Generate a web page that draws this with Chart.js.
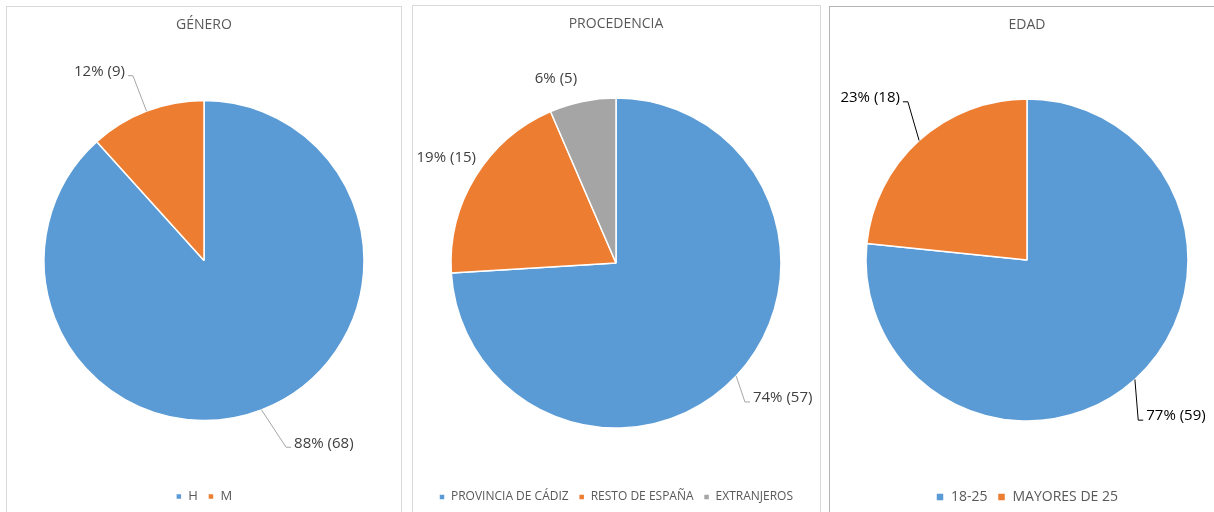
<!DOCTYPE html>
<html>
<head>
<meta charset="utf-8">
<script src="https://cdn.jsdelivr.net/npm/chart.js@4/dist/chart.umd.min.js"></script>
<style>
  html, body { margin: 0; padding: 0; background: #fff; width: 1214px; height: 512px; overflow: hidden; }
  .panel { position: absolute; box-sizing: border-box; border: 1px solid #d9d9d9; }
  canvas { position: absolute; }
</style>
</head>
<body>
<div class="panel" style="left:6px;top:6px;width:396px;height:530px;"></div>
<div class="panel" style="left:412px;top:5px;width:409px;height:530px;"></div>
<div class="panel" style="left:829px;top:6px;width:400px;height:530px;border-color:#b4b4b4;"></div>
<canvas id="c1" width="394" height="506" style="left:7px;top:7px;"></canvas>
<canvas id="c2" width="406" height="507" style="left:413px;top:6px;"></canvas>
<canvas id="c3" width="394" height="507" style="left:830px;top:7px;"></canvas>
<script>
// ---- data ----
const generoTitle = 'GÉNERO';
const generoLabels = ['H', 'M'];
const generoValues = [68, 9];

const procedenciaTitle = 'PROCEDENCIA';
const procedenciaLabels = ['PROVINCIA DE CÁDIZ', 'RESTO DE ESPAÑA', 'EXTRANJEROS'];
const procedenciaValues = [57, 15, 5];

const edadTitle = 'EDAD';
const edadLabels = ['18-25', 'MAYORES DE 25'];
const edadValues = [59, 18];

const palette = ['#5B9BD5', '#ED7D31', '#A5A5A5'];
const FONT = "'Open Sans', 'DejaVu Sans', sans-serif";

// label plugin: percentage + count, with leader lines, anchored to arc geometry
const pieLabels = {
  id: 'pieLabels',
  afterDatasetsDraw(chart, args, opts) {
    const ctx = chart.ctx;
    const meta = chart.getDatasetMeta(0);
    const data = chart.data.datasets[0].data;
    const total = data.reduce((a, b) => a + b, 0);
    ctx.save();
    ctx.font = (opts.size || 15) + 'px ' + FONT;
    ctx.textBaseline = 'middle';
    meta.data.forEach((arc, i) => {
      const cfg = opts.items[i];
      const p = arc.getProps(['x', 'y', 'startAngle', 'endAngle', 'outerRadius'], true);
      const mid = (p.startAngle + p.endAngle) / 2;
      const R = p.outerRadius;
      const a2 = mid + cfg.shift * Math.PI / 180;
      const ex = p.x + (R + cfg.extra) * Math.cos(a2);
      const ey = p.y + (R + cfg.extra) * Math.sin(a2);
      const right = Math.cos(a2) >= 0;
      const text = Math.round(data[i] / total * 100) + '% (' + data[i] + ')';
      if (cfg.leader) {
        const ax = p.x + R * Math.cos(mid);
        const ay = p.y + R * Math.sin(mid);
        const hx = ex + (right ? 5 : -5);
        ctx.strokeStyle = opts.lineColor;
        ctx.lineWidth = 1;
        ctx.beginPath();
        ctx.moveTo(ax, ay);
        ctx.lineTo(ex, ey);
        ctx.lineTo(hx, ey);
        ctx.stroke();
        ctx.fillStyle = opts.color;
        ctx.textAlign = right ? 'left' : 'right';
        ctx.fillText(text, ex + (right ? 8 : -8), ey - 4);
      } else {
        ctx.fillStyle = opts.color;
        ctx.textAlign = cfg.align || (right ? 'left' : 'right');
        ctx.fillText(text, ex, ey);
      }
    });
    ctx.restore();
  }
};

function makePie(id, title, labels, values, o) {
  return new Chart(document.getElementById(id), {
    type: 'pie',
    data: {
      labels: labels,
      datasets: [{
        data: values,
        backgroundColor: palette.slice(0, values.length),
        borderColor: '#ffffff',
        borderWidth: 1.5,
        hoverOffset: 0,
        radius: o.radius
      }]
    },
    options: {
      responsive: false,
      animation: false,
      events: [],
      layout: { padding: 0 },
      plugins: {
        tooltip: { enabled: false },
        title: {
          display: true, text: title, color: '#595959',
          font: { family: FONT, size: 14, weight: 'normal' },
          padding: { top: 10, bottom: o.titlePadB }
        },
        legend: {
          display: true, position: 'bottom',
          labels: {
            color: '#595959', boxWidth: o.box, boxHeight: o.box, padding: 10,
            font: { family: FONT, size: o.legendSize }
          }
        },
        pieLabels: o.labels
      }
    },
    plugins: [pieLabels]
  });
}

makePie('c1', generoTitle, generoLabels, generoValues, {
  radius: 160, titlePadB: 7.2, legendSize: 13, box: 6,
  labels: { color: '#404040', lineColor: '#a6a6a6', size: 15, items: [
    { shift: -2.7, extra: 44, leader: true },
    { shift: 0, extra: 38, leader: true }
  ]}
});

makePie('c2', procedenciaTitle, procedenciaLabels, procedenciaValues, {
  radius: 165, titlePadB: 12.2, legendSize: 12, box: 6,
  labels: { color: '#404040', lineColor: '#a6a6a6', size: 15, items: [
    { shift: 3.9, extra: 24.6, leader: true },
    { shift: 5.3, extra: 10, leader: false },
    { shift: -6.4, extra: 28.5, leader: false, align: 'center' }
  ]}
});

makePie('c3', edadTitle, edadLabels, edadValues, {
  radius: 161, titlePadB: 6.2, legendSize: 14, box: 8,
  labels: { color: '#000000', lineColor: '#000000', size: 15, items: [
    { shift: 7.3, extra: 34, leader: true },
    { shift: 5.1, extra: 37, leader: true }
  ]}
});
</script>
</body>
</html>
